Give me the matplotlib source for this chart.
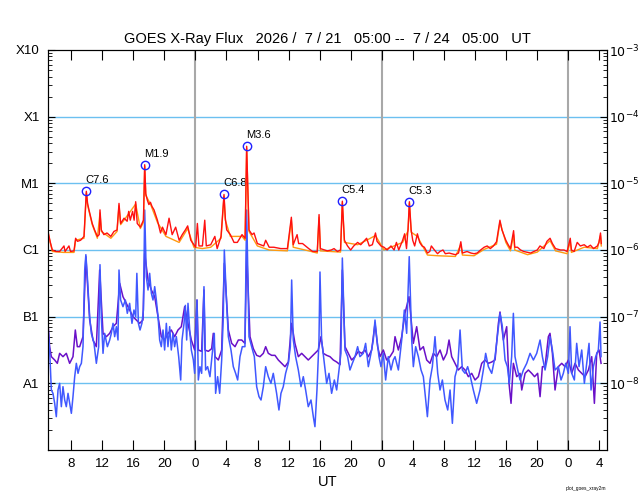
import matplotlib
matplotlib.use("Agg")
import matplotlib.pyplot as plt
import numpy as np
from matplotlib.ticker import LogLocator, NullFormatter

plt.rcParams["font.family"] = ["Liberation Sans", "DejaVu Sans"]

# time axis: hours since 2026-07-21 05:00 UT
# long channel (0.1-0.8 nm), primary satellite, flux in W/m^2
long_t = [0.0, 0.3, 0.56, 1.0, 1.5, 2.06, 2.2, 2.7, 2.9, 3.35, 3.56, 3.8, 4.2, 4.64, 4.94,
          5.1, 5.28, 5.7, 6.0, 6.36, 6.6, 6.7, 6.87, 7.2, 7.6, 8.1, 8.5, 8.9, 9.15, 9.36,
          9.8, 10.2, 10.4, 10.6, 10.9, 11.1, 11.3, 11.5, 11.9, 12.3, 12.46, 12.6, 12.8, 13.0,
          13.2, 13.4, 13.66, 14.1, 14.5, 14.75, 15.2, 15.6, 16.0, 16.45, 16.9, 17.3, 17.7,
          18.0, 18.4, 18.8, 19.03, 19.25, 19.45, 19.9, 20.2, 20.4, 20.97, 21.5, 21.8, 22.3,
          22.68, 22.85, 23.03, 23.5, 23.97, 24.4, 25.0, 25.4, 25.6, 25.9, 26.3, 26.55, 26.98,
          27.4, 27.8, 28.05, 28.5, 29.1, 30.0, 30.85, 31.36, 31.6, 32.1, 32.3, 32.8, 33.6,
          34.1, 34.7, 34.93, 35.1, 36.0, 36.5, 36.86, 37.3, 37.7, 37.93, 38.2, 38.6, 39.0,
          39.4, 39.9, 40.3, 41.06, 41.4, 41.8, 42.2, 42.4, 42.9, 43.3, 43.7, 44.2, 44.6, 44.9,
          45.2, 45.7, 45.96, 46.2, 46.4, 46.57, 46.8, 47.0, 47.25, 47.6, 47.9, 48.2, 48.5,
          48.9, 49.2, 49.4, 49.8, 50.2, 50.5, 50.9, 51.2, 51.7, 52.5, 52.9, 53.2, 53.4, 54.0,
          54.5, 54.9, 55.3, 55.75, 56.2, 56.6, 57.0, 57.4, 57.8, 58.24, 58.5, 59.0, 59.3,
          59.6, 60.0, 60.15, 60.5, 60.9, 61.3, 61.8, 62.2, 62.6, 63.05, 63.4, 63.9, 64.3,
          64.7, 65.0, 65.4, 66.05, 66.5, 66.9, 67.3, 67.45, 67.8, 68.2, 68.6, 69.1, 69.5,
          69.9, 70.3, 70.8, 71.0, 71.2, 71.3]
long_flux = [1.9e-6, 1.3e-6, 1.0e-6, 0.95e-6, 0.95e-6, 1.15e-6, 0.95e-6, 1.15e-6, 0.95e-6,
             0.97e-6, 1.5e-6, 1.35e-6, 1.4e-6, 1.6e-6, 7.6e-6, 5.0e-6, 4.0e-6, 2.5e-6, 2.0e-6,
             1.6e-6, 1.7e-6, 4.0e-6, 2.0e-6, 1.7e-6, 1.8e-6, 1.6e-6, 1.9e-6, 2.0e-6, 5.0e-6,
             2.5e-6, 3.0e-6, 2.7e-6, 3.8e-6, 2.8e-6, 3.8e-6, 2.8e-6, 5.3e-6, 2.5e-6, 2.2e-6,
             2.8e-6, 1.9e-5, 7.0e-6, 5.6e-6, 4.8e-6, 5.2e-6, 4.5e-6, 4.0e-6, 2.8e-6, 1.8e-6,
             2.2e-6, 1.7e-6, 3.0e-6, 1.7e-6, 2.2e-6, 1.4e-6, 1.7e-6, 2.0e-6, 2.3e-6, 1.4e-6,
             1.2e-6, 1.1e-6, 2.5e-6, 1.15e-6, 1.15e-6, 2.8e-6, 1.15e-6, 1.2e-6, 1.6e-6,
             1.05e-6, 1.6e-6, 6.8e-6, 3.0e-6, 2.0e-6, 1.7e-6, 1.3e-6, 1.3e-6, 1.7e-6, 1.5e-6,
             3.6e-5, 2.0e-6, 1.7e-6, 1.8e-6, 1.25e-6, 1.2e-6, 1.15e-6, 1.4e-6, 1.1e-6, 1.1e-6,
             1.05e-6, 1.05e-6, 3.1e-6, 1.2e-6, 1.7e-6, 1.25e-6, 1.25e-6, 1.05e-6, 0.95e-6,
             0.95e-6, 3.4e-6, 1.05e-6, 0.97e-6, 1.0e-6, 1.05e-6, 0.95e-6, 1.0e-6, 5.4e-6,
             1.4e-6, 1.15e-6, 1.0e-6, 1.15e-6, 1.3e-6, 1.2e-6, 1.5e-6, 1.15e-6, 1.2e-6, 1.8e-6,
             1.35e-6, 1.15e-6, 1.1e-6, 1.0e-6, 1.15e-6, 1.0e-6, 1.3e-6, 1.0e-6, 1.4e-6,
             1.75e-6, 1.05e-6, 2.1e-6, 5.3e-6, 2.0e-6, 1.4e-6, 1.15e-6, 1.75e-6, 1.3e-6,
             1.15e-6, 1.1e-6, 0.9e-6, 0.95e-6, 1.15e-6, 1.0e-6, 0.88e-6, 0.95e-6, 1.0e-6,
             0.88e-6, 0.9e-6, 0.85e-6, 0.9e-6, 1.33e-6, 0.9e-6, 0.95e-6, 0.9e-6, 0.88e-6,
             0.9e-6, 1.0e-6, 1.1e-6, 1.15e-6, 1.05e-6, 1.15e-6, 1.33e-6, 2.8e-6, 2.0e-6,
             1.4e-6, 1.2e-6, 1.05e-6, 1.95e-6, 1.1e-6, 1.1e-6, 1.0e-6, 0.95e-6, 0.92e-6,
             0.9e-6, 0.95e-6, 1.0e-6, 1.15e-6, 1.05e-6, 1.35e-6, 1.5e-6, 1.25e-6, 1.05e-6,
             1.0e-6, 1.0e-6, 0.95e-6, 1.5e-6, 1.0e-6, 0.95e-6, 1.3e-6, 1.15e-6, 1.2e-6,
             1.1e-6, 1.18e-6, 1.05e-6, 1.15e-6, 1.3e-6, 1.8e-6, 1.25e-6]

# long channel, secondary satellite (sits just under the red trace): (hour, flux)
long2_pts = [(0.0, 1.8e-6), (0.56, 0.95e-6), (2.0, 0.92e-6), (3.35, 0.92e-6), (3.56, 1.4e-6),
             (4.64, 1.5e-6), (4.94, 7.2e-6), (5.1, 4.7e-6), (5.7, 2.4e-6), (6.36, 1.5e-6),
             (6.7, 3.6e-6), (6.87, 1.9e-6), (8.1, 1.5e-6), (8.9, 1.9e-6), (9.15, 4.6e-6),
             (9.36, 2.4e-6), (10.4, 3.5e-6), (11.3, 4.9e-6), (11.9, 2.1e-6), (12.3, 2.6e-6),
             (12.46, 1.8e-5), (12.6, 6.6e-6), (13.2, 4.9e-6), (14.1, 2.6e-6), (15.2, 1.6e-6),
             (16.9, 1.3e-6), (18.0, 2.1e-6), (18.8, 1.1e-6), (19.9, 1.05e-6), (20.97, 1.1e-6),
             (22.3, 1.5e-6), (22.68, 6.4e-6), (22.85, 2.8e-6), (23.5, 1.6e-6), (25.0, 1.6e-6),
             (25.4, 1.4e-6), (25.6, 3.4e-5), (25.9, 1.9e-6), (26.98, 1.15e-6), (28.5, 1.0e-6),
             (30.85, 0.97e-6), (31.36, 2.8e-6), (31.6, 1.1e-6), (33.6, 0.97e-6), (34.7, 0.9e-6),
             (34.93, 3.1e-6), (35.1, 0.97e-6), (37.7, 0.93e-6), (37.93, 5.1e-6), (38.2, 1.3e-6),
             (39.9, 1.2e-6), (41.06, 1.4e-6), (42.2, 1.65e-6), (43.3, 1.0e-6), (45.7, 1.3e-6),
             (46.4, 1.95e-6), (46.57, 5.0e-6), (46.8, 1.85e-6), (47.6, 1.6e-6), (48.9, 0.84e-6),
             (50.2, 0.82e-6), (52.5, 0.8e-6), (53.2, 1.2e-6), (53.4, 0.84e-6), (54.9, 0.82e-6),
             (56.2, 1.02e-6), (57.8, 1.22e-6), (58.24, 2.6e-6), (59.0, 1.3e-6), (59.6, 0.97e-6),
             (60.0, 1.7e-6), (60.15, 1.0e-6), (61.8, 0.85e-6), (63.05, 0.93e-6), (64.7, 1.38e-6),
             (65.4, 0.97e-6), (66.9, 0.88e-6), (67.3, 1.35e-6), (67.45, 0.92e-6), (69.1, 1.1e-6),
             (70.8, 1.05e-6), (71.2, 1.65e-6), (71.3, 1.15e-6)]

# short channel (0.05-0.4 nm), primary satellite: (hour, log10 flux)
short_pts = [
    (0.0, -7.15), (0.21, -7.5), (0.43, -8.1), (0.64, -8.15), (0.86, -8.3), (1.07, -8.5),
    (1.29, -8.1), (1.5, -8.0), (1.72, -8.35), (1.93, -8.05), (2.15, -8.25), (2.36, -8.35),
    (2.58, -8.15), (2.79, -8.3), (3.01, -8.45), (3.22, -8.2), (3.44, -7.9), (3.65, -7.7),
    (3.87, -7.85), (4.08, -7.75), (4.3, -7.7), (4.51, -7.45), (4.73, -6.3), (4.88, -6.07),
    (5.07, -6.4), (5.37, -7.0), (5.58, -7.25), (5.93, -7.4), (6.23, -7.7), (6.53, -7.45),
    (6.7, -6.22), (6.87, -7.0), (7.09, -7.55), (7.3, -7.25), (7.65, -7.45), (7.95, -7.35),
    (8.16, -7.25), (8.38, -7.1), (8.59, -7.3), (8.81, -7.15), (9.02, -7.35), (9.15, -6.3),
    (9.36, -6.75), (9.66, -6.85), (9.97, -6.75), (10.22, -6.95), (10.52, -6.8), (10.82, -7.1),
    (11.08, -6.9), (11.3, -7.0), (11.45, -6.35), (11.65, -7.1), (11.86, -7.2), (12.1, -7.1),
    (12.3, -6.9), (12.46, -5.4), (12.67, -6.4), (12.89, -6.6), (13.1, -6.35), (13.32, -6.65),
    (13.53, -6.75), (13.75, -6.55), (13.96, -6.75), (14.18, -7.0), (14.39, -7.35), (14.6, -7.45),
    (14.82, -7.2), (15.03, -7.5), (15.25, -7.1), (15.46, -7.45), (15.68, -7.15), (15.89, -7.5),
    (16.11, -7.25), (16.32, -7.45), (16.54, -7.3), (16.84, -7.6), (17.1, -7.95), (17.27, -7.35),
    (17.53, -7.1), (17.7, -6.83), (17.87, -7.35), (18.04, -6.8), (18.26, -7.2), (18.47, -7.5),
    (18.73, -7.65), (18.9, -7.85),
    (19.2, -6.75), (19.37, -7.95), (19.58, -7.75), (19.8, -7.85), (20.1, -6.55), (20.31, -7.8),
    (20.57, -7.75), (20.87, -7.9), (21.17, -7.55), (21.43, -7.25), (21.6, -8.15), (21.86, -7.9),
    (22.12, -8.15), (22.38, -7.65), (22.59, -7.0), (22.72, -6.0), (23.02, -6.8), (23.24, -7.3),
    (23.58, -7.5), (23.88, -7.75), (24.18, -7.85), (24.44, -7.95), (24.74, -7.6), (25.04, -7.45),
    (25.38, -7.45), (25.6, -5.4), (25.9, -7.3), (26.24, -7.45), (26.59, -7.6), (26.89, -8.05),
    (27.19, -8.2), (27.45, -8.25), (27.75, -8.05), (28.05, -7.75), (28.39, -7.9), (28.73, -8.0),
    (29.03, -7.85), (29.46, -8.15), (29.76, -8.4), (30.02, -8.15), (30.32, -8.05), (30.62, -7.85),
    (30.97, -7.7), (31.23, -7.45), (31.4, -6.45), (31.61, -7.35), (31.91, -7.6), (32.26, -7.8),
    (32.6, -8.05), (32.9, -7.9), (33.2, -8.1), (33.54, -8.35), (33.89, -8.25), (34.19, -8.5),
    (34.4, -8.65), (34.66, -8.1), (34.92, -7.35), (35.05, -6.33), (35.26, -7.35), (35.61, -7.7),
    (35.91, -8.0), (36.21, -7.85), (36.55, -8.15), (36.9, -7.95), (37.2, -8.1), (37.5, -7.8),
    (37.75, -7.55), (37.93, -6.12), (38.27, -7.5), (38.61, -7.6), (38.91, -7.8), (39.22, -7.7),
    (39.56, -7.6), (39.9, -7.45), (40.2, -7.6), (40.63, -7.55), (40.93, -7.4), (41.28, -7.75),
    (41.62, -7.55), (41.92, -7.35), (42.14, -7.05), (42.35, -7.3), (42.65, -7.6), (42.91, -7.75),
    (43.21, -7.55), (43.51, -7.95), (43.85, -7.6), (44.2, -7.8), (44.5, -7.65),
    (44.72, -7.6), (45.15, -7.8), (45.58, -7.35), (45.92, -6.9), (46.22, -7.25), (46.55, -6.1),
    (46.87, -7.35), (47.08, -7.75), (47.38, -7.45), (47.73, -7.6), (48.07, -7.8), (48.37, -7.9),
    (48.67, -8.25), (48.89, -8.5), (49.23, -7.95), (49.53, -7.75), (49.87, -7.3), (50.22, -7.85),
    (50.52, -8.1), (50.82, -7.95), (51.16, -8.25), (51.51, -8.4), (51.81, -8.1), (52.11, -8.6),
    (52.45, -7.9), (52.8, -7.75), (53.1, -7.2), (53.4, -7.8), (53.74, -7.85), (54.08, -7.75),
    (54.43, -7.9), (54.81, -8.1), (55.24, -8.3), (55.67, -8.1), (56.1, -7.8), (56.4, -7.55),
    (56.75, -7.75), (57.18, -7.85), (57.61, -7.6), (57.95, -7.25), (58.25, -6.95), (58.55, -7.15),
    (58.9, -7.65), (59.2, -7.75), (59.45, -8.0), (59.75, -7.6), (59.97, -6.95), (60.18, -7.6),
    (60.53, -7.8), (60.83, -7.95), (61.26, -7.8), (61.69, -7.7), (62.12, -7.55), (62.55, -7.65),
    (62.98, -7.55), (63.41, -7.35), (63.71, -7.6), (64.05, -7.8), (64.39, -7.6), (64.69, -7.3),
    (65.0, -7.5), (65.34, -7.8), (65.77, -7.75), (66.11, -7.95), (66.41, -7.85), (66.71, -7.7),
    (67.06, -7.85), (67.27, -7.15), (67.49, -7.85), (67.83, -7.95), (68.13, -7.4), (68.43, -7.75),
    (68.78, -7.5), (69.12, -8.0), (69.42, -7.7), (69.72, -7.4), (69.98, -8.1), (70.28, -7.75),
    (70.58, -7.6), (70.92, -7.5), (71.14, -7.08), (71.27, -7.6)]

# short channel, secondary satellite: (hour, log10 flux)
short2_pts = [
    (0.0, -7.1), (0.21, -7.45), (0.43, -7.6), (0.86, -7.65), (1.2, -7.7), (1.5, -7.55),
    (1.93, -7.6), (2.36, -7.55), (2.79, -7.7), (3.22, -7.6), (3.52, -7.2), (3.78, -7.45),
    (4.08, -7.45), (4.51, -7.3), (4.88, -6.1), (5.37, -7.05), (5.8, -7.35), (6.23, -7.45),
    (6.66, -6.3), (7.09, -7.25), (7.52, -7.3), (7.95, -7.25), (8.38, -7.15), (8.81, -7.1),
    (9.24, -6.5), (9.66, -6.7), (10.09, -6.8), (10.52, -6.9), (10.95, -7.0), (11.38, -7.05),
    (11.81, -7.1), (12.24, -7.05), (12.46, -6.05), (12.89, -6.45), (13.32, -6.6), (13.75, -6.7),
    (14.18, -7.0), (14.6, -7.3), (15.03, -7.35), (15.46, -7.25), (15.89, -7.2), (16.32, -7.3),
    (16.75, -7.2), (17.18, -7.15), (17.61, -6.85), (18.04, -7.1), (18.47, -7.35), (18.9, -7.5),
    (19.2, -6.75), (19.37, -7.5), (19.8, -7.52), (20.1, -6.6), (20.23, -7.5), (20.66, -7.52),
    (21.09, -7.48), (21.3, -7.25), (21.52, -7.6), (21.95, -7.65), (22.38, -7.5), (22.72, -6.2),
    (23.24, -7.2), (23.67, -7.4), (24.1, -7.45), (24.53, -7.35), (24.96, -7.35), (25.38, -7.4),
    (25.6, -6.0), (26.03, -7.3), (26.46, -7.48), (26.89, -7.58), (27.32, -7.6), (27.75, -7.55),
    (28.05, -7.45), (28.39, -7.55), (28.82, -7.58), (29.25, -7.58), (29.68, -7.65), (30.11, -7.7),
    (30.54, -7.75), (30.97, -7.68), (31.4, -7.1), (31.82, -7.4), (32.26, -7.6), (32.69, -7.55),
    (33.12, -7.6), (33.54, -7.65), (33.97, -7.6), (34.4, -7.55), (34.83, -7.5), (35.18, -7.3),
    (35.48, -7.55), (35.91, -7.58), (36.34, -7.6), (36.77, -7.65), (37.2, -7.68), (37.63, -7.72),
    (37.93, -6.3), (38.27, -7.45), (38.7, -7.55), (39.13, -7.65), (39.56, -7.6), (39.99, -7.52),
    (40.42, -7.55), (40.85, -7.5), (41.28, -7.6), (41.71, -7.5), (42.14, -7.1), (42.48, -7.45),
    (42.78, -7.6), (43.21, -7.5), (43.64, -7.65), (44.07, -7.6), (44.5, -7.52),
    (44.72, -7.3), (45.15, -7.5), (45.58, -7.3), (46.0, -6.95), (46.52, -6.7), (47.08, -7.4),
    (47.51, -7.15), (47.94, -7.5), (48.37, -7.45), (48.8, -7.65), (49.23, -7.7), (49.66, -7.55),
    (50.09, -7.6), (50.52, -7.5), (50.95, -7.65), (51.38, -7.55), (51.68, -7.35), (52.02, -7.6),
    (52.45, -7.7), (52.88, -7.8), (53.31, -7.75), (53.74, -7.8), (54.17, -7.9), (54.6, -7.85),
    (55.03, -7.95), (55.46, -7.9), (55.89, -7.7), (56.32, -7.65), (56.75, -7.7), (57.18, -7.68),
    (57.61, -7.65), (58.04, -7.1), (58.25, -6.93), (58.68, -7.35), (59.11, -7.15), (59.41, -8.0),
    (59.67, -8.3), (59.97, -7.7), (60.4, -7.9), (60.83, -7.85), (61.05, -8.1), (61.48, -7.85),
    (61.9, -7.8), (62.33, -7.85), (62.7, -7.9), (63.1, -7.85), (63.41, -8.2), (63.71, -7.75),
    (64.05, -7.75), (64.48, -7.3), (64.69, -7.25), (65.0, -7.55), (65.34, -8.1), (65.77, -7.75),
    (66.2, -7.7), (66.63, -7.75), (67.06, -7.65), (67.49, -7.85), (67.92, -7.7), (68.35, -7.8),
    (68.78, -7.85), (69.21, -7.9), (69.64, -7.8), (70.07, -7.6), (70.41, -8.3), (70.71, -7.55),
    (71.01, -7.5), (71.27, -7.7)]

# flare annotations
flare_t = [4.94, 12.46, 22.68, 25.6, 37.93, 46.57]
flare_flux = [7.6e-6, 1.9e-5, 6.8e-6, 3.6e-5, 5.4e-6, 5.3e-6]
flare_labels = ["C7.6", "M1.9", "C6.8", "M3.6", "C5.4", "C5.3"]

# axis labels
decades = [1e-3, 1e-4, 1e-5, 1e-6, 1e-7, 1e-8]
class_labels = ["X10", "X1", "M1", "C1", "B1", "A1"]
power_labels = [r"$10^{-3}$", r"$10^{-4}$", r"$10^{-5}$", r"$10^{-6}$", r"$10^{-7}$", r"$10^{-8}$"]
hour_ticks = [3, 7, 11, 15, 19, 23, 27, 31, 35, 39, 43, 47, 51, 55, 59, 63, 67, 71]
hour_labels = ["8", "12", "16", "20", "0", "4", "8", "12", "16", "20", "0", "4", "8", "12",
               "16", "20", "0", "4"]
day_lines = [19, 43, 67]

long2_t, long2_flux = zip(*long2_pts)
short_t, short_log = zip(*short_pts)
short2_t, short2_log = zip(*short2_pts)

fig = plt.figure(figsize=(6.4, 5.0), dpi=100)
ax = fig.add_axes([0.075, 0.10, 0.873, 0.80])

for d in decades[1:]:
    ax.axhline(d, color="#6cc0f0", lw=1.0, zorder=1)
for d in day_lines:
    ax.axvline(d, color="#a8a8a8", lw=1.5, zorder=1)

ax.plot(short2_t, np.power(10.0, short2_log), color="#6a10c8", lw=1.1, zorder=2)
ax.plot(short_t, np.power(10.0, short_log), color="#4058ff", lw=1.1, zorder=3)
ax.plot(long2_t, long2_flux, color="#ff9a10", lw=1.0, zorder=4)
ax.plot(long_t, long_flux, color="#ff1010", lw=1.0, zorder=5)

ax.plot(flare_t, flare_flux, "o", ms=6, mfc="none", mec="#2020ff", mew=1.0, zorder=6)
for t, f, lab in zip(flare_t, flare_flux, flare_labels):
    ax.annotate(lab, (t, f), xytext=(-1, 6), textcoords="offset pixels",
                ha="left", va="bottom", fontsize=8)

ax.set_yscale("log")
ax.set_ylim(1e-9, 1e-3)
ax.set_xlim(0, 72)
ax.set_yticks(decades)
ax.set_yticklabels(class_labels, fontsize=9.5)
ax.yaxis.set_minor_locator(LogLocator(base=10, subs=range(2, 10)))
ax.yaxis.set_minor_formatter(NullFormatter())
ax.set_xticks(hour_ticks)
ax.set_xticklabels(hour_labels, fontsize=9.5)
ax.tick_params(axis="x", which="major", direction="in", length=7, top=True, pad=6)
ax.tick_params(axis="y", which="major", direction="in", length=5, pad=6)
ax.tick_params(axis="y", which="minor", direction="in", length=3)
ax.set_xlabel("UT", fontsize=10.5, labelpad=3)

ax2 = ax.twinx()
ax2.set_yscale("log")
ax2.set_ylim(1e-9, 1e-3)
ax2.set_yticks(decades)
ax2.set_yticklabels(power_labels, fontsize=9)
ax2.yaxis.set_minor_locator(LogLocator(base=10, subs=range(2, 10)))
ax2.yaxis.set_minor_formatter(NullFormatter())
ax2.tick_params(axis="y", which="major", direction="in", length=5, pad=2)
ax2.tick_params(axis="y", which="minor", direction="in", length=3)

ax.set_title("GOES X-Ray Flux   2026 /  7 / 21   05:00 --  7 / 24   05:00   UT",
             fontsize=10.5, pad=5)
fig.text(0.915, 0.02, "plot_goes_xray2m", fontsize=3.5, ha="center")

fig.savefig("out.png", dpi=100)
